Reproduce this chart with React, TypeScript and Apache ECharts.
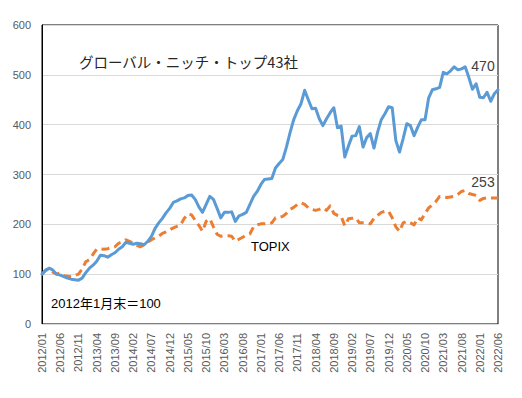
import React, { useEffect, useRef } from "react";
import * as echarts from "echarts";

// Monthly categories 2012/01 .. 2022/06
const startYear = 2012;
const monthCount = 126;
const months: string[] = [];
for (let k = 0; k < monthCount; k++) {
  const y = startYear + Math.floor(k / 12);
  const m = (k % 12) + 1;
  months.push(`${y}/${m < 10 ? "0" + m : m}`);
}

const nicheTop43: number[] = [
  100, 108, 112, 108, 100, 98, 95, 92, 90, 89,
  88, 92, 103, 112, 118, 126, 138, 137, 134, 139,
  143, 150, 155, 164, 162, 160, 162, 161, 159, 166,
  176, 192, 203, 212, 223, 232, 244, 247, 251, 253,
  258, 259, 250, 235, 224, 240, 256, 250, 232, 213,
  224, 224, 225, 206, 217, 220, 224, 240, 256, 266,
  280, 290, 291, 292, 313, 322, 330, 355, 384, 410,
  428, 442, 469, 450, 432, 433, 412, 398, 412, 424,
  434, 394, 397, 335, 357, 377, 378, 396, 355, 374,
  382, 353, 385, 410, 422, 436, 434, 368, 345, 372,
  402, 398, 378, 395, 410, 410, 454, 470, 472, 475,
  505, 502, 508, 516, 510, 512, 516, 495, 471, 482,
  455, 454, 465, 447, 462, 470,
];

const topix: number[] = [
  100, 108, 110, 104, 100, 103, 97, 96, 95, 97,
  100, 110, 125, 129, 140, 150, 151, 150, 151, 153,
  155, 162, 165, 169, 166, 162, 158, 155, 159, 164,
  169, 173, 176, 182, 185, 189, 193, 196, 199, 212,
  221, 219, 208, 198, 186, 206, 211, 195, 180, 176,
  177, 177, 176, 166, 170, 174, 178, 181, 195, 199,
  201, 201, 201, 203, 213, 214, 216, 222, 230, 234,
  240, 243, 240, 233, 230, 228, 230, 233, 228, 237,
  222, 218, 216, 197, 211, 212, 213, 203, 203, 203,
  201, 212, 218, 224, 226, 226, 213, 195, 186, 203,
  206, 203, 199, 213, 209, 222, 233, 239, 246, 256,
  255, 254, 255, 256, 260, 266, 268, 262, 260, 258,
  248, 252, 253, 253, 253, 253,
];

const seriesNames = ["グローバル・ニッチ・トップ43社", "TOPIX"];
const baseNote = "2012年1月末＝100";

const latin = "'Liberation Sans', 'Noto Sans CJK JP', sans-serif";

function lastPointMark(values: number[], offset: number[]) {
  const last = values.length - 1;
  return {
    symbol: "circle",
    symbolSize: 1,
    silent: true,
    itemStyle: { color: "rgba(0,0,0,0)" },
    label: {
      show: true,
      position: "top",
      distance: 5,
      offset,
      formatter: "{c}",
      fontSize: 14,
      color: "#404040",
      fontFamily: latin,
      opacity: 1,
    },
    data: [{ coord: [last, values[last]], value: values[last] }],
  };
}

export default function App() {
  const ref = useRef<HTMLDivElement>(null);
  useEffect(() => {
    if (!ref.current) return;
    const chart = echarts.init(ref.current, undefined, { renderer: "svg" });
    chart.setOption({
      animation: false,
      backgroundColor: "#fff",
      grid: {
        left: 42,
        right: 24,
        top: 25,
        bottom: 74,
        show: true,
        borderColor: "#000",
        borderWidth: 1,
        backgroundColor: "transparent",
      },
      xAxis: {
        type: "category",
        data: months,
        boundaryGap: false,
        axisLine: { show: true, lineStyle: { color: "#D9D9D9", width: 1 } },
        axisTick: { show: false },
        axisLabel: {
          interval: 4,
          rotate: 90,
          margin: 9,
          fontSize: 11,
          color: "#595959",
          fontFamily: latin,
        },
        splitLine: { show: false },
      },
      yAxis: {
        type: "value",
        min: 0,
        max: 600,
        interval: 100,
        axisLine: { show: true, lineStyle: { color: "#000", width: 1 } },
        axisTick: { show: false },
        axisLabel: {
          margin: 11,
          fontSize: 11,
          color: "#595959",
          fontFamily: latin,
        },
        splitLine: { show: true, lineStyle: { color: "#D9D9D9", width: 1 } },
      },
      series: [
        {
          name: seriesNames[0],
          type: "line",
          data: nicheTop43,
          symbol: "none",
          showSymbol: false,
          clip: false,
          lineStyle: { color: "#5B9BD5", width: 3, cap: "round", join: "round" },
          markPoint: lastPointMark(nicheTop43, [-15, -11]),
          z: 3,
        },
        {
          name: seriesNames[1],
          type: "line",
          data: topix,
          symbol: "none",
          showSymbol: false,
          clip: false,
          lineStyle: {
            color: "#ED7D31",
            width: 3,
            type: [8, 5],
            join: "round",
          },
          markPoint: lastPointMark(topix, [-15, -3]),
          z: 2,
        },
      ],
      graphic: [
        {
          type: "text",
          left: 79,
          top: 54,
          style: {
            text: seriesNames[0],
            fontSize: 14.5,
            fill: "#262626",
            fontFamily: "'Noto Sans CJK JP', sans-serif",
          },
        },
        {
          type: "text",
          left: 251,
          top: 240,
          style: {
            text: seriesNames[1],
            fontSize: 13,
            fill: "#000",
            fontFamily: latin,
          },
        },
        {
          type: "text",
          left: 51,
          top: 297,
          style: {
            text: baseNote,
            fontSize: 13,
            fill: "#000",
            fontFamily: latin,
          },
        },
      ],
    });
    return () => chart.dispose();
  }, []);
  return (
    <div
      ref={ref}
      style={{ width: 522, height: 398, position: "fixed", left: 0, top: 0 }}
    />
  );
}
